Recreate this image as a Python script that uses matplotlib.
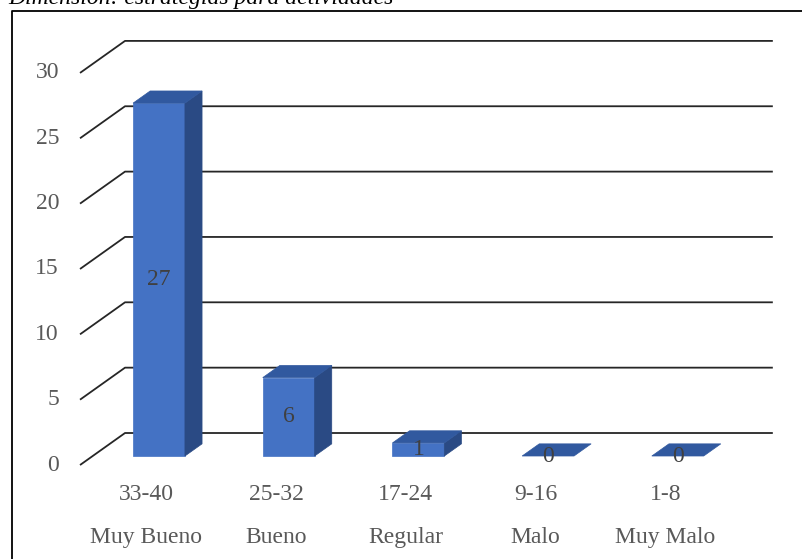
"""Pseudo-3D column chart: count per score range (Muy Bueno ... Muy Malo)."""
import matplotlib
matplotlib.use("Agg")
import matplotlib.pyplot as plt
from matplotlib.patches import Polygon, Rectangle
from matplotlib.lines import Line2D

# --- data ---
RANGES = ["33-40", "25-32", "17-24", "9-16", "1-8"]
LEVELS = ["Muy Bueno", "Bueno", "Regular", "Malo", "Muy Malo"]
COUNTS = [27, 6, 1, 0, 0]
YTICKS = [0, 5, 10, 15, 20, 25, 30]
TITLE = "Dimensión: estrategias para actividades"

# --- 3D look (data units: x = category, y = count) ---
WALL_DX, WALL_DY = 0.347, 2.45      # back wall offset
FRONT_DX, FRONT_DY = 0.097, 0.69    # bar front face offset
BACK_DX, BACK_DY = 0.229, 1.62      # bar back face offset
HALF_W = 0.2
X_LEFT, X_RIGHT = -0.512, 4.83
C_FRONT, C_SIDE, C_TOP = "#4472C4", "#2A4A84", "#31599F"
GRID = "#262626"; TXT = "#595959"
FONT = "Liberation Serif"
FS = 17

fig = plt.figure(figsize=(8.02, 5.59), dpi=100)
ax = fig.add_axes([0, 0, 1, 1])
ax.set_xlim(-1.129, 5.055); ax.set_ylim(-7.19, 35.58)
ax.axis("off")

# gridlines: diagonal on the side + back wall line
for v in YTICKS:
    ax.plot([X_LEFT, X_LEFT + WALL_DX, X_RIGHT], [v, v + WALL_DY, v + WALL_DY],
            color=GRID, lw=1.3, zorder=1, solid_capstyle="butt")
    ax.text(X_LEFT - 0.162, v, str(v), ha="right", va="center", color=TXT,
            fontsize=FS, family=FONT)

# bars
for i, v in enumerate(COUNTS):
    x0 = i + FRONT_DX - HALF_W; x1 = i + FRONT_DX + HALF_W
    b0 = i + BACK_DX - HALF_W; b1 = i + BACK_DX + HALF_W
    if v > 0:
        ax.add_patch(Rectangle((x0, FRONT_DY), 2 * HALF_W, v, facecolor=C_FRONT,
                               edgecolor=C_FRONT, lw=0.5, zorder=3))
        ax.add_patch(Polygon([(x1, FRONT_DY), (b1, BACK_DY), (b1, BACK_DY + v), (x1, FRONT_DY + v)],
                             facecolor=C_SIDE, edgecolor=C_SIDE, lw=0.5, zorder=3))
    ax.add_patch(Polygon([(x0, FRONT_DY + v), (b0, BACK_DY + v), (b1, BACK_DY + v), (x1, FRONT_DY + v)],
                         facecolor=C_TOP, edgecolor=C_TOP, lw=0.5, zorder=3))
    ax.text(i + FRONT_DX, FRONT_DY + v / 2, str(v), ha="center", va="center",
            color="#404040", fontsize=FS, family=FONT, zorder=4)

# category labels (two rows)
for i, (r, lv) in enumerate(zip(RANGES, LEVELS)):
    ax.text(i, -2.22, r, ha="center", va="center", color=TXT, fontsize=FS, family=FONT)
    ax.text(i, -5.51, lv, ha="center", va="center", color=TXT, fontsize=FS, family=FONT)

# outer frame (left and top edges visible) and title, clipped at the top as in the source
fx, fy = 12 / 802, 1 - 11 / 559
fig.add_artist(Line2D([fx, fx, 1.0], [0.0, fy, fy], color="black", lw=1.3,
                      transform=fig.transFigure))
fig.text(8 / 802, 1 - 4 / 559, TITLE, ha="left", va="baseline", fontsize=FS,
         family=FONT, style="italic", color="black")

fig.savefig("out.png", dpi=100)
